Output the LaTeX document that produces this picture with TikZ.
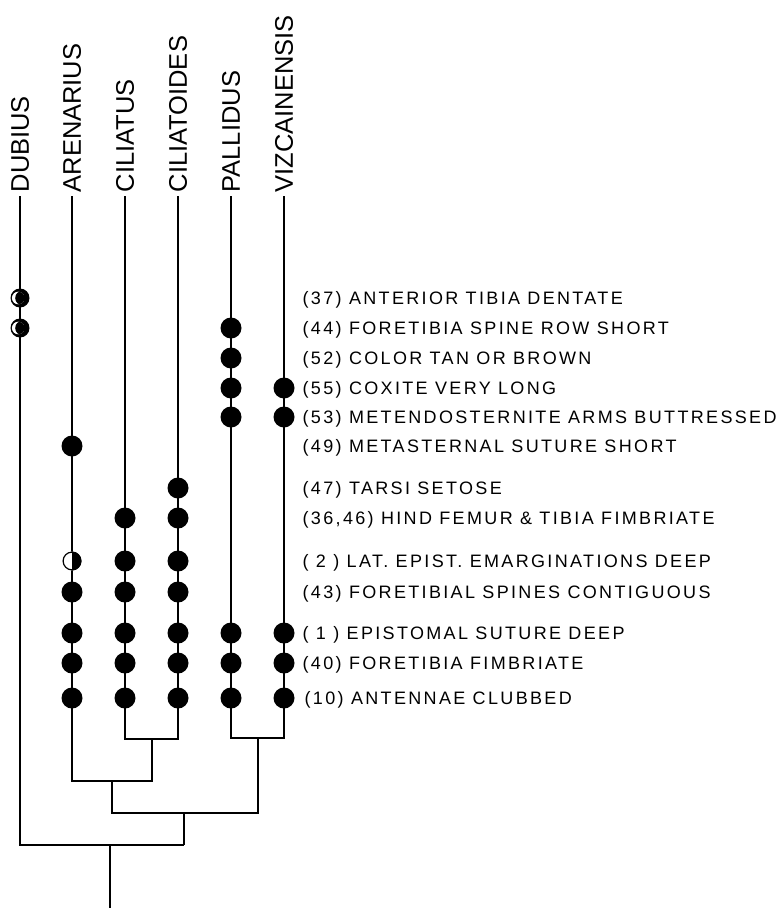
\documentclass[tikz,border=0pt]{standalone}
\usepackage{fontspec}
\setmainfont{Liberation Sans}
\newfontfamily\charfont[LetterSpace=13]{Liberation Sans}
\usetikzlibrary{positioning}

\begin{document}
\begin{tikzpicture}[x=1pt, y=-1pt, line width=1.3pt,
		taxon/.style={rotate=90, anchor=west, inner sep=3pt, font=\fontsize{25.5}{25.5}\selectfont},
		trait/.style={anchor=west, inner sep=0pt, text height=13pt, text depth=0pt, font=\charfont\fontsize{18}{18}\selectfont}]
		\useasboundingbox (0,0) rectangle (782,910);
		% taxa
		\node[taxon] (dubius)       at (20,196)  {DUBIUS};
		\node[taxon] (arenarius)    at (72,196)  {ARENARIUS};
		\node[taxon] (ciliatus)     at (125,196) {CILIATUS};
		\node[taxon] (ciliatoides)  at (178,196) {CILIATOIDES};
		\node[taxon] (pallidus)     at (231,196) {PALLIDUS};
		\node[taxon] (vizcainensis) at (284,196) {VIZCAINENSIS};
		% characters
		\node[trait] (c37)   at (302,298) {(37) ANTERIOR TIBIA DENTATE};
		\node[trait] (c44)   at (302,328) {(44) FORETIBIA SPINE ROW SHORT};
		\node[trait] (c52)   at (302,358) {(52) COLOR TAN OR BROWN};
		\node[trait] (c55)   at (302,388) {(55) COXITE VERY LONG};
		\node[trait] (c53)   at (302,417) {(53) METENDOSTERNITE ARMS BUTTRESSED};
		\node[trait] (c49)   at (302,446) {(49) METASTERNAL SUTURE SHORT};
		\node[trait] (c47)   at (302,488) {(47) TARSI SETOSE};
		\node[trait] (c3646) at (302,518) {(36,46) HIND FEMUR \& TIBIA FIMBRIATE};
		\node[trait] (c2)    at (302,561) {( 2 ) LAT. EPIST. EMARGINATIONS DEEP};
		\node[trait] (c43)   at (302,592) {(43) FORETIBIAL SPINES CONTIGUOUS};
		\node[trait] (c1)    at (302,633) {( 1 ) EPISTOMAL SUTURE DEEP};
		\node[trait] (c40)   at (302,663) {(40) FORETIBIA FIMBRIATE};
		\node[trait] (c10)   at (304,698) {(10) ANTENNAE CLUBBED};
		% tree
		\coordinate (dubB) at (20,845);
		\coordinate (areB) at (72,781);
		\coordinate (cilB) at (125,739);
		\coordinate (citB) at (178,739);
		\coordinate (palB) at (231,738);
		\coordinate (vizB) at (284,738);
		\coordinate (n1)   at (152,739);
		\coordinate (n1b)  at (152,781);
		\coordinate (n2)   at (112,781);
		\coordinate (n2b)  at (112,813);
		\coordinate (n3)   at (258,738);
		\coordinate (n3b)  at (258,813);
		\coordinate (n4)   at (184,813);
		\coordinate (n4b)  at (184,845);
		\coordinate (root)  at (110,845);
		\coordinate (rootB) at (110,908);
		\draw (dubius.west) -- (dubB) -- (n4b);
		\draw (arenarius.west) -- (areB) -- (n1b) -- (n1);
		\draw (ciliatus.west) -- (cilB) -- (citB) -- (ciliatoides.west);
		\draw (pallidus.west) -- (palB) -- (vizB) -- (vizcainensis.west);
		\draw (n3) -- (n3b) -- (n2b) -- (n2);
		\draw (n4) -- (n4b);
		\draw (root) -- (rootB);
		% character states
		\foreach \col/\row in {arenarius/c49, arenarius/c43, arenarius/c1, arenarius/c40, arenarius/c10,
				ciliatus/c3646, ciliatus/c2, ciliatus/c43, ciliatus/c1, ciliatus/c40, ciliatus/c10,
				ciliatoides/c47, ciliatoides/c3646, ciliatoides/c2, ciliatoides/c43, ciliatoides/c1, ciliatoides/c40, ciliatoides/c10,
				pallidus/c44, pallidus/c52, pallidus/c55, pallidus/c53, pallidus/c1, pallidus/c40, pallidus/c10,
				vizcainensis/c55, vizcainensis/c53, vizcainensis/c1, vizcainensis/c40, vizcainensis/c10}
			\fill (\col |- \row) circle (10.5);
		\foreach \row in {c37,c44} {
			\begin{scope}[shift={(dubius |- \row)}]
				\fill (0,0) circle (9.5);
				\begin{scope}
					\clip (-1.8,0) circle (6.3);
					\fill[white] (-1.8,0) circle (6.3);
					\fill (2.4,0) circle (7.2);
				\end{scope}
			\end{scope}
		}
		\begin{scope}[shift={(arenarius |- c2)}]
			\fill[white] (0,0) circle (9.5);
			\fill (0,-9.5) arc[start angle=-90, end angle=90, radius=9.5] -- cycle;
			\draw[line width=1.2pt] (0,0) circle (8.9);
		\end{scope}
	\end{tikzpicture}
\end{document}
